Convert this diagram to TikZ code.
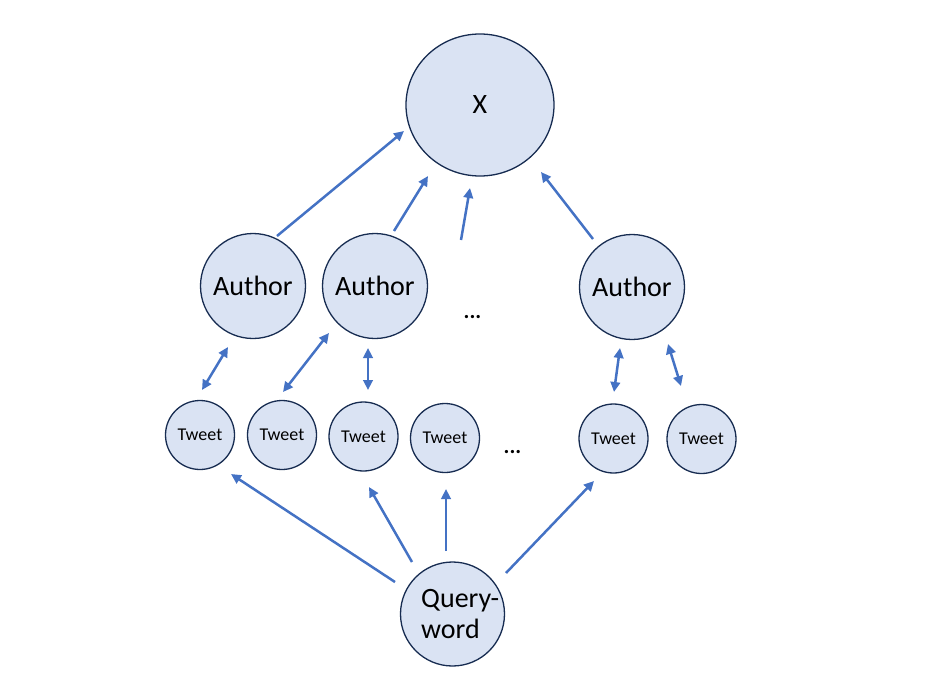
\documentclass[tikz,border=0pt]{standalone}
\usepackage{fontspec}
\setmainfont{Carlito}
\usetikzlibrary{arrows.meta,shapes.geometric}
\definecolor{nodefill}{HTML}{DAE3F3}
\definecolor{nodeline}{HTML}{172C51}
\definecolor{arrowblue}{HTML}{4472C4}
\begin{document}
\begin{tikzpicture}[x=1pt,y=-1pt,
  bubble/.style={circle,draw=nodeline,fill=nodefill,line width=1.3pt,inner sep=0pt,text=black},
  bigbubble/.style={ellipse,draw=nodeline,fill=nodefill,line width=1.3pt,inner sep=0pt,text=black,minimum width=148pt,minimum height=142pt,font=\fontsize{28}{32}\selectfont},
  author/.style={bubble,minimum size=105pt,font=\fontsize{28}{32}\selectfont},
  tweet/.style={bubble,minimum size=69pt,font=\fontsize{18}{22}\selectfont},
  arr/.style={draw=arrowblue,line width=2.5pt,-{Triangle[length=10pt,width=9.5pt]}},
  darr/.style={draw=arrowblue,line width=2.5pt,{Triangle[length=10pt,width=9.5pt]}-{Triangle[length=10pt,width=9.5pt]}},
  dotstyle/.style={font=\fontsize{22}{26}\selectfont\bfseries,inner sep=0pt},
  qtextstyle/.style={font=\fontsize{28}{32}\selectfont,align=left,inner sep=0pt,anchor=west}]
\useasboundingbox (0,0) rectangle (950,691);

% nodes
\node[bigbubble] (x) at (480,105) {X};
\node[author] (a1) at (253,286) {Author};
\node[author] (a2) at (375,286) {Author};
\node[author] (a3) at (632,287) {Author};
\node[dotstyle] (d1) at (472.5,317) {...};
\node[tweet] (t1) at (200,435) {Tweet};
\node[tweet] (t2) at (282,435) {Tweet};
\node[tweet] (t3) at (363.5,436.5) {Tweet};
\node[tweet] (t4) at (445,438) {Tweet};
\node[dotstyle] (d2) at (512.5,452) {...};
\node[tweet] (t5) at (613.5,438.5) {Tweet};
\node[tweet] (t6) at (701.5,439) {Tweet};
\node[bubble,minimum size=104pt] (q) at (452.5,614) {};
\node[qtextstyle] (qt) at (421,614) {Query-\\word};

% connector end points
\coordinate (a1s) at (277,236);  \coordinate (xa1) at (404,131);
\coordinate (a2s) at (394,231);  \coordinate (xa2) at (428,176);
\coordinate (ds)  at (461,240);  \coordinate (xd)  at (470,188);
\coordinate (a3s) at (593,239);  \coordinate (xa3) at (541,172);

\coordinate (t1a) at (202,390);  \coordinate (a1t) at (228,347);
\coordinate (t2a) at (283,392);  \coordinate (a2t) at (329,333);
\coordinate (t3a) at (368,390);  \coordinate (a2b) at (368,348);
\coordinate (t5a) at (614,392);  \coordinate (a3t) at (620,348);
\coordinate (t6a) at (681,386);  \coordinate (a3b) at (668,344);

\coordinate (q1) at (395,582);   \coordinate (t1q) at (231,474);
\coordinate (q3) at (412,562);   \coordinate (t3q) at (369,487);
\coordinate (q4) at (446,551);   \coordinate (t4q) at (446,489);
\coordinate (q5) at (506,573);   \coordinate (t5q) at (594,481);

% connectors
\draw[arr] (a1s) -- (xa1);
\draw[arr] (a2s) -- (xa2);
\draw[arr] (ds) -- (xd);
\draw[arr] (a3s) -- (xa3);

\draw[darr] (t1a) -- (a1t);
\draw[darr] (t2a) -- (a2t);
\draw[darr] (t3a) -- (a2b);
\draw[darr] (t5a) -- (a3t);
\draw[darr] (t6a) -- (a3b);

\draw[arr] (q1) -- (t1q);
\draw[arr] (q3) -- (t3q);
\draw[arr] (q4) -- (t4q);
\draw[arr] (q5) -- (t5q);
\end{tikzpicture}
\end{document}
